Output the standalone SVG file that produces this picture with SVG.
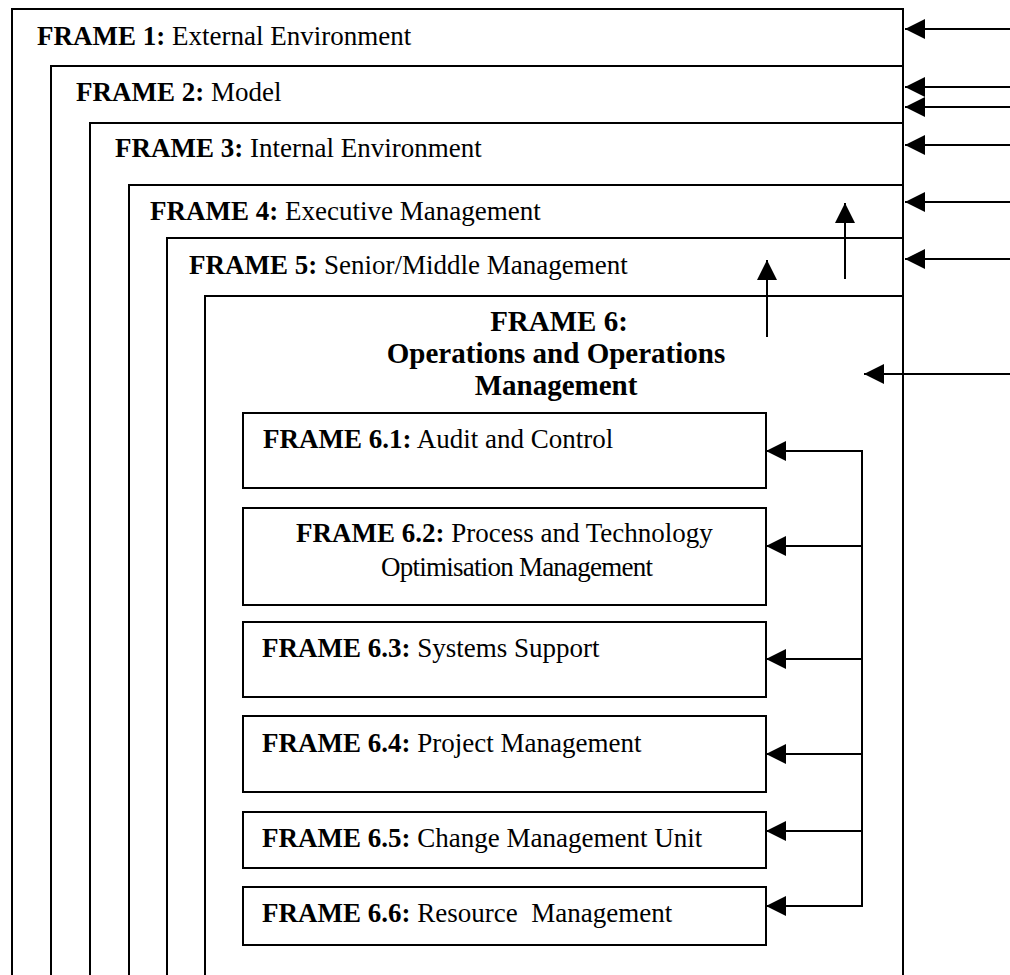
<svg xmlns="http://www.w3.org/2000/svg" width="1010" height="975" viewBox="0 0 1010 975">
  <style>
    .frame { fill: none; stroke: #000; stroke-width: 2; }
    .box { fill: #fff; stroke: #000; stroke-width: 2; }
    .conn { fill: none; stroke: #000; stroke-width: 2; }
    text { font-family: "Liberation Serif", "Times New Roman", serif; font-size: 27px; fill: #000; }
    .b { font-weight: bold; }
    .title { font-weight: bold; font-size: 29px; text-anchor: middle; }
  </style>
  <defs>
    <marker id="arrow" viewBox="0 0 20 20" refX="20" refY="10" markerWidth="20" markerHeight="20" markerUnits="userSpaceOnUse" orient="auto">
      <path d="M0,0 L20,10 L0,20 Z" fill="#000"/>
    </marker>
  </defs>
  <rect width="1010" height="975" fill="#fff"/>

  <!-- nested frames, open at the bottom -->
  <g id="frame1">
    <path class="frame" d="M12,975 V9 H903 V975"/>
    <text x="37" y="45"><tspan class="b">FRAME 1:</tspan> External Environment</text>
  </g>
  <g id="frame2">
    <path class="frame" d="M51,975 V66 H903"/>
    <text x="76" y="101"><tspan class="b">FRAME 2:</tspan> Model</text>
  </g>
  <g id="frame3">
    <path class="frame" d="M90,975 V123 H903"/>
    <text x="115" y="157"><tspan class="b">FRAME 3:</tspan> Internal Environment</text>
  </g>
  <g id="frame4">
    <path class="frame" d="M129,975 V185 H903"/>
    <text x="150" y="220"><tspan class="b">FRAME 4:</tspan> Executive Management</text>
  </g>
  <g id="frame5">
    <path class="frame" d="M167,975 V238 H903"/>
    <text x="189" y="274"><tspan class="b">FRAME 5:</tspan> Senior/Middle Management</text>
  </g>
  <g id="frame6">
    <path class="frame" d="M205,975 V296 H903"/>
    <text class="title" x="559" y="331">FRAME 6:</text>
    <text class="title" x="556" y="363">Operations and Operations</text>
    <text class="title" x="556" y="395">Management</text>
  </g>

  <!-- sub-frames inside frame 6 -->
  <g id="frame6-1">
    <rect class="box" x="243" y="413" width="523" height="75"/>
    <text x="263" y="448"><tspan class="b">FRAME 6.1:</tspan> Audit and Control</text>
  </g>
  <g id="frame6-2">
    <rect class="box" x="243" y="508" width="523" height="97"/>
    <text x="296" y="542"><tspan class="b">FRAME 6.2:</tspan> Process and Technology</text>
    <text x="381" y="576" textLength="272" lengthAdjust="spacing">Optimisation Management</text>
  </g>
  <g id="frame6-3">
    <rect class="box" x="243" y="622" width="523" height="75"/>
    <text x="262" y="657"><tspan class="b">FRAME 6.3:</tspan> Systems Support</text>
  </g>
  <g id="frame6-4">
    <rect class="box" x="243" y="716" width="523" height="76"/>
    <text x="262" y="752"><tspan class="b">FRAME 6.4:</tspan> Project Management</text>
  </g>
  <g id="frame6-5">
    <rect class="box" x="243" y="812" width="523" height="56"/>
    <text x="262" y="847"><tspan class="b">FRAME 6.5:</tspan> Change Management Unit</text>
  </g>
  <g id="frame6-6">
    <rect class="box" x="243" y="887" width="523" height="58"/>
    <text x="262" y="922" xml:space="preserve"><tspan class="b">FRAME 6.6:</tspan> Resource  Management</text>
  </g>

  <!-- connectors -->
  <g id="connectors">
    <!-- inputs from the right edge -->
    <line class="conn" x1="1010" y1="29" x2="905" y2="29" marker-end="url(#arrow)"/>
    <line class="conn" x1="1010" y1="87" x2="905" y2="87" marker-end="url(#arrow)"/>
    <line class="conn" x1="1010" y1="107" x2="905" y2="107" marker-end="url(#arrow)"/>
    <line class="conn" x1="1010" y1="145" x2="905" y2="145" marker-end="url(#arrow)"/>
    <line class="conn" x1="1010" y1="202" x2="905" y2="202" marker-end="url(#arrow)"/>
    <line class="conn" x1="1010" y1="259" x2="905" y2="259" marker-end="url(#arrow)"/>
    <line class="conn" x1="1010" y1="374" x2="864" y2="374" marker-end="url(#arrow)"/>
    <!-- upward reporting arrows -->
    <line class="conn" x1="845" y1="279" x2="845" y2="203" marker-end="url(#arrow)"/>
    <line class="conn" x1="767" y1="337" x2="767" y2="260" marker-end="url(#arrow)"/>
    <!-- distribution bus to sub-frames -->
    <line class="conn" x1="862" y1="450" x2="862" y2="907"/>
    <line class="conn" x1="863" y1="451" x2="766" y2="451" marker-end="url(#arrow)"/>
    <line class="conn" x1="863" y1="546" x2="766" y2="546" marker-end="url(#arrow)"/>
    <line class="conn" x1="863" y1="659" x2="766" y2="659" marker-end="url(#arrow)"/>
    <line class="conn" x1="863" y1="754" x2="766" y2="754" marker-end="url(#arrow)"/>
    <line class="conn" x1="863" y1="831" x2="766" y2="831" marker-end="url(#arrow)"/>
    <line class="conn" x1="863" y1="906" x2="766" y2="906" marker-end="url(#arrow)"/>
  </g>
</svg>
